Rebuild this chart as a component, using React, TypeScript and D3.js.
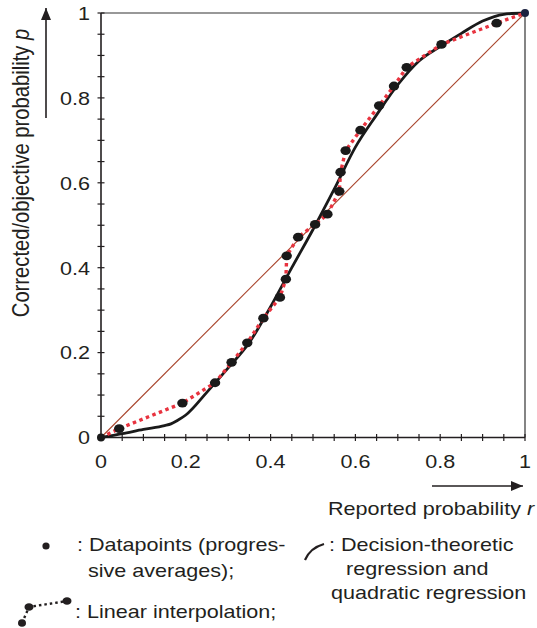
import { useMemo, type ReactNode } from "react";
import * as d3 from "d3";

// progressive averages (reported r, corrected p)
const pointR = [0, 0.043, 0.192, 0.269, 0.308, 0.345, 0.383, 0.422, 0.436, 0.438, 0.465, 0.505, 0.534, 0.562, 0.565, 0.577, 0.612, 0.656, 0.691, 0.721, 0.803, 0.933, 1];
const pointP = [0, 0.021, 0.081, 0.129, 0.177, 0.223, 0.281, 0.33, 0.373, 0.428, 0.472, 0.502, 0.526, 0.58, 0.625, 0.676, 0.724, 0.782, 0.828, 0.872, 0.926, 0.976, 1];

// decision-theoretic / quadratic regression curve
const curveR = [0, 0.05, 0.1, 0.15, 0.165, 0.18, 0.2, 0.25, 0.3, 0.35, 0.4, 0.45, 0.5, 0.55, 0.6, 0.65, 0.7, 0.75, 0.8, 0.85, 0.9, 0.95, 1];
const curveP = [0, 0.009, 0.019, 0.028, 0.032, 0.04, 0.053, 0.107, 0.164, 0.224, 0.308, 0.4, 0.49, 0.585, 0.684, 0.76, 0.831, 0.887, 0.921, 0.952, 0.981, 0.997, 1];

const majorTicks = [0, 0.2, 0.4, 0.6, 0.8, 1];
const tickLabels = ["0", "0.2", "0.4", "0.6", "0.8", "1"];
const minorTicks = d3.range(0, 21).map((i) => i / 20);

const W = 537;
const H = 628;
const FONT = "'Liberation Sans', Arial, Helvetica, sans-serif";
const INK = "#231f20";
// the source figure is stretched sideways, so is its lettering
const SX = 1.16;
const FS = 18.6;

function T({ x, y, anchor = "start", children }: { x: number; y: number; anchor?: string; children: ReactNode }) {
  return (
    <text transform={`translate(${x},${y}) scale(${SX},1)`} textAnchor={anchor} fontFamily={FONT} fontSize={FS} fill={INK}>
      {children}
    </text>
  );
}

export default function App() {
  const x = useMemo(() => d3.scaleLinear().domain([0, 1]).range([101, 525]), []);
  const y = useMemo(() => d3.scaleLinear().domain([0, 1]).range([437.5, 13]), []);

  const points = pointR.map((r, i) => ({ r, p: pointP[i] }));
  const curve = curveR.map((r, i) => ({ r, p: curveP[i] }));

  const lineGen = d3
    .line<{ r: number; p: number }>()
    .x((d) => x(d.r))
    .y((d) => y(d.p));
  const smooth = d3
    .line<{ r: number; p: number }>()
    .x((d) => x(d.r))
    .y((d) => y(d.p))
    .curve(d3.curveMonotoneX);

  return (
    <div style={{ position: "fixed", left: 0, top: 0 }}>
      <svg width={W} height={H} viewBox={`0 0 ${W} ${H}`} style={{ display: "block", background: "#fff" }}>
        <defs>
          <marker id="ah" viewBox="0 0 12 10" refX="12" refY="5" markerWidth="12" markerHeight="10" markerUnits="userSpaceOnUse" orient="auto">
            <path d="M0,0 L12,5 L0,10 Z" fill={INK} />
          </marker>
        </defs>

        {/* frame */}
        <line x1={x(0)} x2={x(1)} y1={y(1)} y2={y(1)} stroke="#333" strokeWidth={1.2} />
        <line x1={x(1)} x2={x(1)} y1={y(0)} y2={y(1)} stroke="#333" strokeWidth={1.2} />
        <line x1={x(0)} x2={x(0)} y1={y(0)} y2={y(1)} stroke={INK} strokeWidth={1.6} />
        <line x1={x(0)} x2={x(1)} y1={y(0)} y2={y(0)} stroke={INK} strokeWidth={1.6} />

        {/* ticks */}
        {minorTicks.map((t) => (
          <g key={`t${t}`}>
            <line x1={x(0) - 3.5} x2={x(0) + 3.5} y1={y(t)} y2={y(t)} stroke={INK} strokeWidth={1.2} />
            <line x1={x(t)} x2={x(t)} y1={y(0) - 3.5} y2={y(0) + 3.5} stroke={INK} strokeWidth={1.2} />
          </g>
        ))}
        {majorTicks.map((t, i) => (
          <g key={`l${t}`}>
            <T x={90} y={y(t) + 6.8} anchor="end">
              {tickLabels[i]}
            </T>
            <T x={x(t)} y={468} anchor="middle">
              {tickLabels[i]}
            </T>
          </g>
        ))}

        {/* diagonal */}
        <line x1={x(0)} y1={y(0)} x2={x(1)} y2={y(1)} stroke="#a8432a" strokeWidth={1.1} />

        {/* regression curve */}
        <path d={smooth(curve) ?? ""} fill="none" stroke="#1a1a1a" strokeWidth={2.8} />

        {/* linear interpolation */}
        <path d={lineGen(points) ?? ""} fill="none" stroke="#e8333f" strokeWidth={3.4} strokeDasharray="3.5 3.5" />

        {/* datapoints */}
        {points.map((d, i) => (
          <ellipse
            key={i}
            cx={x(d.r)}
            cy={y(d.p)}
            rx={i === 0 || i === points.length - 1 ? 4 : 5.2}
            ry={i === 0 || i === points.length - 1 ? 4 : 4.4}
            fill={i === points.length - 1 ? "#1c2340" : "#1a1a1a"}
          />
        ))}

        {/* y title + arrow */}
        <text
          transform={`translate(29,173) scale(${SX},1) rotate(-90)`}
          textAnchor="middle"
          fontFamily={FONT}
          fontSize={20.2}
          fill={INK}
        >
          Corrected/objective probability <tspan fontStyle="italic">p</tspan>
        </text>
        <line x1={46} x2={46} y1={118} y2={8} stroke={INK} strokeWidth={1.6} markerEnd="url(#ah)" />

        {/* x title + arrow */}
        <line x1={432} x2={523} y1={486} y2={486} stroke={INK} strokeWidth={1.6} markerEnd="url(#ah)" />
        <T x={328} y={515}>
          Reported probability <tspan fontStyle="italic">r</tspan>
        </T>

        {/* legend */}
        <circle cx={46} cy={546} r={3.6} fill={INK} />
        <T x={77} y={551}>: Datapoints (progres-</T>
        <T x={88} y={577}>sive averages);</T>

        <path d="M22,623 L29,607 L67,601" fill="none" stroke={INK} strokeWidth={2.4} strokeDasharray="2.5 3" />
        <ellipse cx={29} cy={607} rx={4.5} ry={3.8} fill={INK} />
        <ellipse cx={67} cy={601} rx={4.5} ry={3.8} fill={INK} />
        <ellipse cx={22} cy={623} rx={4} ry={3.8} fill={INK} />
        <T x={75} y={618}>: Linear interpolation;</T>

        <path d="M305,560 Q310,548 324,544" fill="none" stroke={INK} strokeWidth={2.2} />
        <T x={329} y={551}>: Decision-theoretic</T>
        <T x={346} y={575}>regression and</T>
        <T x={331} y={599}>quadratic regression</T>
      </svg>
    </div>
  );
}
